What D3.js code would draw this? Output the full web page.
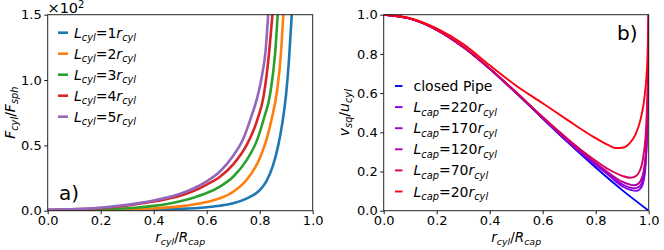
<!DOCTYPE html>
<html><head><meta charset="utf-8">
<script src="https://cdn.jsdelivr.net/npm/d3@7"></script>
<style>body{margin:0;background:#fff}svg{display:block;font-family:"DejaVu Sans",sans-serif}</style>
</head><body><svg id="c" width="664" height="250"></svg>
<script>
// ---------- Panel a data (F_cyl/F_sph, units of 10^2) ----------
const aLabels = ["1", "2", "3", "4", "5"];
const aColors = ["#1f77b4", "#ff7f0e", "#2ca02c", "#d62728", "#9467bd"];
const aL1 = [[0,0.001],[0.1,0.002],[0.2,0.003],[0.3,0.005],[0.4,0.008],[0.5,0.014],[0.6,0.027],[0.65,0.038],[0.7,0.057],[0.75,0.093],[0.8,0.157],[0.825,0.225],[0.85,0.345],[0.87,0.5],[0.885,0.665],[0.9,0.9],[0.91,1.14],[0.921,1.5]];
const aL2 = [[0,0.002],[0.1,0.003],[0.2,0.006],[0.3,0.01],[0.4,0.017],[0.5,0.033],[0.55,0.047],[0.6,0.066],[0.65,0.095],[0.7,0.145],[0.75,0.235],[0.8,0.40],[0.825,0.54],[0.845,0.70],[0.865,0.91],[0.88,1.2],[0.889,1.5]];
const aL3 = [[0,0.004],[0.1,0.006],[0.2,0.011],[0.3,0.019],[0.35,0.026],[0.4,0.037],[0.45,0.052],[0.5,0.073],[0.55,0.1],[0.6,0.135],[0.65,0.185],[0.7,0.26],[0.75,0.385],[0.79,0.54],[0.815,0.70],[0.84,0.9],[0.858,1.2],[0.868,1.5]];
const aL4 = [[0,0.006],[0.1,0.01],[0.2,0.02],[0.3,0.04],[0.35,0.055],[0.4,0.07],[0.45,0.09],[0.5,0.115],[0.55,0.15],[0.6,0.2],[0.65,0.26],[0.7,0.355],[0.75,0.5],[0.79,0.69],[0.815,0.88],[0.835,1.2],[0.848,1.5]];
const aL5 = [[0,0.007],[0.1,0.012],[0.2,0.023],[0.3,0.045],[0.35,0.06],[0.4,0.078],[0.45,0.1],[0.5,0.13],[0.55,0.17],[0.6,0.225],[0.65,0.30],[0.7,0.42],[0.74,0.56],[0.765,0.70],[0.79,0.86],[0.81,1.05],[0.822,1.22],[0.832,1.5]];
const aSeries = [aL1, aL2, aL3, aL4, aL5];
const aYTicks = [0, 0.5, 1.0, 1.5];
const xTicks = [0, 0.2, 0.4, 0.6, 0.8, 1.0];

// ---------- Panel b data (v_sq/u_cyl) ----------
const bLabels = ["closed Pipe", "220", "170", "120", "70", "20"];
const bColors = ["#0000ff", "#8000f0", "#9a00cc", "#b3009a", "#d9005a", "#ff0010"];
const bClosed = [[0,1.0],[0.1,0.98],[0.2,0.923],[0.3,0.835],[0.4,0.724],[0.5,0.60],[0.6,0.47],[0.7,0.342],[0.8,0.22],[0.9,0.105],[1.0,0.0]];
const b220 = [[0,1.0],[0.1,0.98],[0.2,0.923],[0.3,0.835],[0.4,0.724],[0.5,0.601],[0.6,0.472],[0.7,0.346],[0.8,0.233],[0.85,0.18],[0.9,0.125],[0.935,0.105],[0.955,0.102],[0.97,0.115],[0.982,0.16],[0.99,0.27],[0.996,0.5],[1.0,1.0]];
const b170 = [[0,1.0],[0.1,0.98],[0.2,0.923],[0.3,0.835],[0.4,0.724],[0.5,0.602],[0.6,0.474],[0.7,0.348],[0.8,0.238],[0.85,0.185],[0.9,0.135],[0.93,0.118],[0.95,0.115],[0.965,0.123],[0.978,0.16],[0.988,0.25],[0.995,0.45],[0.999,0.8],[1.0,1.0]];
const b120 = [[0,1.0],[0.1,0.98],[0.2,0.923],[0.3,0.835],[0.4,0.725],[0.5,0.603],[0.6,0.476],[0.7,0.352],[0.8,0.243],[0.85,0.192],[0.9,0.148],[0.93,0.133],[0.945,0.13],[0.96,0.137],[0.975,0.17],[0.985,0.24],[0.993,0.4],[0.998,0.7],[1.0,1.0]];
const b70 = [[0,1.0],[0.1,0.98],[0.2,0.923],[0.3,0.836],[0.4,0.726],[0.5,0.604],[0.6,0.478],[0.7,0.36],[0.75,0.305],[0.8,0.255],[0.85,0.21],[0.9,0.178],[0.93,0.168],[0.95,0.175],[0.965,0.2],[0.98,0.28],[0.99,0.42],[0.996,0.65],[1.0,1.0]];
const b20 = [[0,1.0],[0.1,0.982],[0.2,0.93],[0.3,0.85],[0.4,0.742],[0.5,0.638],[0.6,0.548],[0.7,0.457],[0.75,0.412],[0.8,0.37],[0.85,0.333],[0.875,0.32],[0.9,0.321],[0.925,0.34],[0.95,0.388],[0.97,0.47],[0.985,0.59],[0.995,0.77],[1.0,1.0]];
const bSeries = [bClosed, b220, b170, b120, b70, b20];
const bYTicks = [0, 0.2, 0.4, 0.6, 0.8, 1.0];

const svg = d3.select("#c");
const plotTop = 14.7, plotBottom = 210.7;

function panel(x0, x1, yMax, yTicks, series, colors, lw, id) {
  const x = d3.scaleLinear().domain([0, 1]).range([x0, x1]);
  const y = d3.scaleLinear().domain([0, yMax]).range([plotBottom, plotTop]);
  svg.append("clipPath").attr("id", id).append("rect")
    .attr("x", x0).attr("y", plotTop).attr("width", x1 - x0).attr("height", plotBottom - plotTop);
  const g = svg.append("g").attr("clip-path", `url(#${id})`);
  const line = d3.line().x(d => x(d[0])).y(d => y(d[1])).curve(d3.curveMonotoneX);
  series.forEach((s, i) => {
    g.append("path").attr("d", line(s)).attr("fill", "none")
      .attr("stroke", colors[i]).attr("stroke-width", lw).attr("stroke-linejoin", "round");
  });
  const fmt = d3.format(".1f");
  const ax = svg.append("g").attr("transform", `translate(0,${plotBottom})`)
    .call(d3.axisBottom(x).tickValues(xTicks).tickFormat(fmt).tickSize(3.5).tickPadding(2));
  const ay = svg.append("g").attr("transform", `translate(${x0},0)`)
    .call(d3.axisLeft(y).tickValues(yTicks).tickFormat(fmt).tickSize(3.5).tickPadding(2.5));
  [ax, ay].forEach(a => {
    a.select(".domain").remove();
    a.selectAll("text").attr("font-size", 13).attr("fill", "#000").attr("font-family", "DejaVu Sans");
    a.selectAll("line").attr("stroke", "#000").attr("stroke-width", 0.9);
  });
  svg.append("rect").attr("x", x0).attr("y", plotTop).attr("width", x1 - x0).attr("height", plotBottom - plotTop)
    .attr("fill", "none").attr("stroke", "#222").attr("stroke-width", 1);
  return {x, y};
}

function mathLabel(sel, parts, size) {
  let wasSub = false;
  parts.forEach(p => {
    const t = sel.append("tspan").text(p[0]);
    if (p[1]) t.attr("font-style", "italic");
    const isSub = p[2];
    t.attr("font-size", isSub ? size * 0.7 : size);
    if (isSub && !wasSub) t.attr("dy", size * 0.25);
    else if (!isSub && wasSub) t.attr("dy", -size * 0.25);
    wasSub = isSub;
  });
  return sel;
}

panel(47.7, 312.7, 1.5, aYTicks, aSeries, aColors, 2.6, "ca");
panel(383.7, 648.7, 1.0, bYTicks, bSeries, bColors, 1.9, "cb");

[180.2, 516.2].forEach(cx => {
  mathLabel(svg.append("text").attr("x", cx).attr("y", 242).attr("text-anchor", "middle"),
    [["r", true, false], ["cyl", true, true], ["/", false, false], ["R", true, false], ["cap", true, true]], 13.5);
});
mathLabel(svg.append("text").attr("transform", "translate(14.5,112.7) rotate(-90)").attr("text-anchor", "middle"),
  [["F", true, false], ["cyl", true, true], ["/", false, false], ["F", true, false], ["sph", true, true]], 14);
mathLabel(svg.append("text").attr("transform", "translate(348.5,112.7) rotate(-90)").attr("text-anchor", "middle"),
  [["v", true, false], ["sq", true, true], ["/", false, false], ["u", true, false], ["cyl", true, true]], 14);

const off = svg.append("text").attr("x", 47.5).attr("y", 13).attr("font-size", 14.5);
off.append("tspan").text("×10");
off.append("tspan").text("2").attr("font-size", 10).attr("dy", -5.5);

svg.append("text").attr("x", 59).attr("y", 200).attr("font-size", 20).text("a)");
svg.append("text").attr("x", 617).attr("y", 40).attr("font-size", 20).text("b)");

aLabels.forEach((l, i) => {
  const yy = 32.7 + i * 21;
  svg.append("line").attr("x1", 58).attr("x2", 68).attr("y1", yy).attr("y2", yy)
    .attr("stroke", aColors[i]).attr("stroke-width", 2.6);
  mathLabel(svg.append("text").attr("x", 74).attr("y", yy + 5),
    [["L", true, false], ["cyl", true, true], ["=" + l, false, false], ["r", true, false], ["cyl", true, true]], 14);
});
bLabels.forEach((l, i) => {
  const yy = 86 + i * 21.1;
  svg.append("line").attr("x1", 395).attr("x2", 402.5).attr("y1", yy).attr("y2", yy)
    .attr("stroke", bColors[i]).attr("stroke-width", 1.9);
  const t = svg.append("text").attr("x", 413.5).attr("y", yy + 5);
  if (i === 0) t.attr("font-size", 14).text(l);
  else mathLabel(t, [["L", true, false], ["cap", true, true], ["=" + l, false, false], ["r", true, false], ["cyl", true, true]], 14);
});
</script></body></html>
